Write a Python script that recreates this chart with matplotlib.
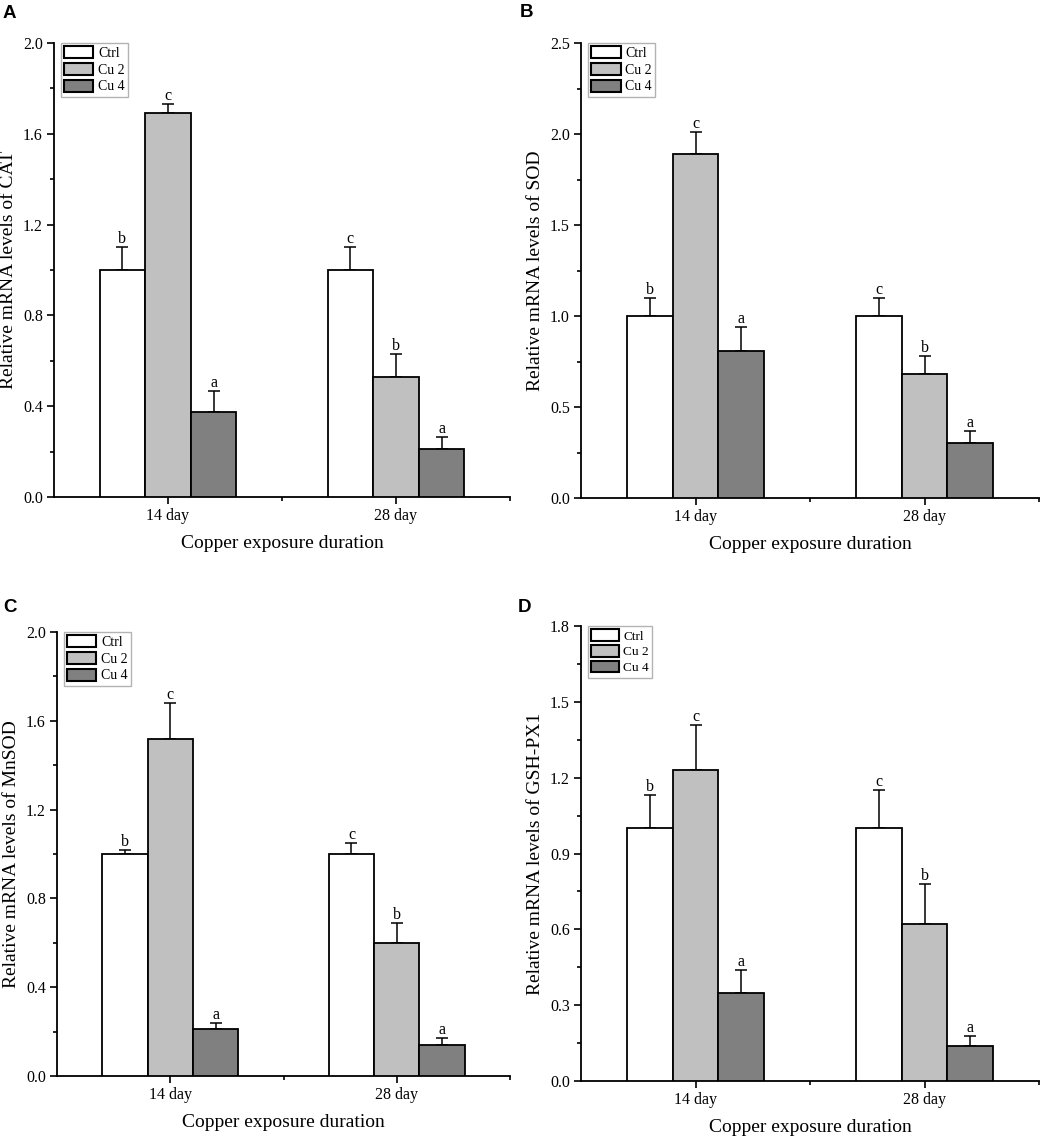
import matplotlib
matplotlib.use("Agg")
import matplotlib.pyplot as plt
import numpy as np
from matplotlib.ticker import MultipleLocator, FixedLocator

groups = ["14 day", "28 day"]
treatments = ["Ctrl", "Cu 2", "Cu 4"]
colors = ["#ffffff", "#c0c0c0", "#808080"]

cat_mean = [[1.00, 1.00], [1.69, 0.53], [0.375, 0.21]]
cat_err = [[0.10, 0.10], [0.04, 0.10], [0.09, 0.055]]
cat_let = [["b", "c"], ["c", "b"], ["a", "a"]]

sod_mean = [[1.00, 1.00], [1.89, 0.68], [0.81, 0.30]]
sod_err = [[0.10, 0.10], [0.12, 0.10], [0.13, 0.07]]
sod_let = [["b", "c"], ["c", "b"], ["a", "a"]]

mnsod_mean = [[1.00, 1.00], [1.52, 0.60], [0.21, 0.14]]
mnsod_err = [[0.02, 0.05], [0.16, 0.09], [0.03, 0.03]]
mnsod_let = [["b", "c"], ["c", "b"], ["a", "a"]]

gsh_mean = [[1.00, 1.00], [1.23, 0.62], [0.35, 0.14]]
gsh_err = [[0.13, 0.15], [0.18, 0.16], [0.09, 0.04]]
gsh_let = [["b", "c"], ["c", "b"], ["a", "a"]]

panels = [
    ("A", "Relative mRNA levels of CAT", cat_mean, cat_err, cat_let, 2.0, 0.4),
    ("B", "Relative mRNA levels of SOD", sod_mean, sod_err, sod_let, 2.5, 0.5),
    ("C", "Relative mRNA levels of MnSOD", mnsod_mean, mnsod_err, mnsod_let, 2.0, 0.4),
    ("D", "Relative mRNA levels of GSH-PX1", gsh_mean, gsh_err, gsh_let, 1.8, 0.3),
]

W, H = 1052, 1141
# axes rectangles in pixels: left, right, top, bottom
rects = [
    (54, 510, 43, 497),
    (581, 1039, 43, 498),
    (57, 510, 632, 1076),
    (581, 1039, 626, 1081),
]
letter_pos = [(3, 5), (520, 4), (3, 599), (518, 599)]
legend_fs = [10, 10, 10, 9.5]

plt.rcParams["font.family"] = ["Liberation Serif", "DejaVu Serif"]
fig = plt.figure(figsize=(W / 100, H / 100), dpi=100)

bw = 0.2
x = np.arange(1, len(groups) + 1)
for (lab, ylab, mean, err, lets, ymax, step), (l, r, t, b), (lx, ly), lfs in zip(panels, rects, letter_pos, legend_fs):
    ax = fig.add_axes([l / W, 1 - b / H, (r - l) / W, (b - t) / H])
    for i, tr in enumerate(treatments):
        xs = x + (i - 1) * bw
        ax.bar(xs, mean[i], width=bw, color=colors[i], edgecolor="black",
               linewidth=1.3, label=tr, zorder=3)
        ax.errorbar(xs, mean[i], yerr=[np.zeros(len(groups)), err[i]], fmt="none",
                    ecolor="black", elinewidth=1.1, capsize=4, capthick=1.1, zorder=2)
        for xx, m, e, s in zip(xs, mean[i], err[i], lets[i]):
            ax.annotate(s, (xx, m + e), xytext=(0, 0), textcoords="offset points",
                        ha="center", va="bottom", fontsize=11.5)
    ax.set_xlim(0.5, 2.5)
    ax.set_ylim(0, ymax)
    ax.set_xticks(x)
    ax.set_xticklabels(groups)
    ax.xaxis.set_minor_locator(FixedLocator([1.5, 2.5]))
    ax.yaxis.set_major_locator(MultipleLocator(step))
    ax.yaxis.set_minor_locator(MultipleLocator(step / 2))
    ax.yaxis.set_major_formatter(matplotlib.ticker.FormatStrFormatter("%.1f"))
    for sp in ["top", "right"]:
        ax.spines[sp].set_visible(False)
    for sp in ["left", "bottom"]:
        ax.spines[sp].set_linewidth(1.3)
    ax.tick_params(axis="both", which="major", direction="out", length=5, width=1.2,
                   labelsize=11.5, pad=3)
    ax.tick_params(axis="both", which="minor", direction="out", length=3, width=1.2)
    ax.set_xlabel("Copper exposure duration", fontsize=14, labelpad=8)
    ax.set_ylabel(ylab, fontsize=14, labelpad=4)
    leg = ax.legend(loc="upper left", bbox_to_anchor=(0.015, 1.0), borderaxespad=0,
                    fontsize=lfs, handlelength=2.1, handleheight=0.95, labelspacing=0.2,
                    handletextpad=0.35, borderpad=0.25, fancybox=False, frameon=True)
    leg.get_frame().set_edgecolor("#a0a0a0")
    leg.get_frame().set_linewidth(1.0)
    for p in leg.get_patches():
        p.set_linewidth(1.5)
    fig.text(lx / W, 1 - ly / H, lab, fontsize=13.5, fontweight="bold",
             family="Liberation Sans", ha="left", va="top")

fig.savefig("out.png", dpi=100)
